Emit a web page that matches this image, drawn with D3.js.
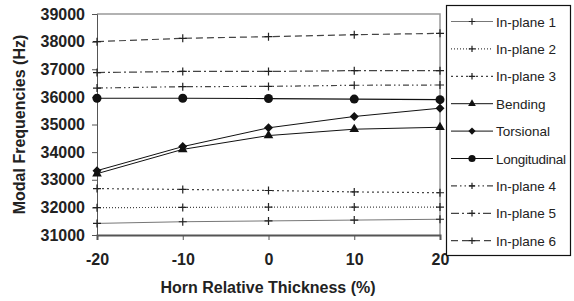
<!DOCTYPE html>
<html>
<head>
<meta charset="utf-8">
<script src="https://cdn.jsdelivr.net/npm/d3@7"></script>
<style>
  body { margin: 0; background: #fff; }
  svg text { font-family: "Liberation Sans", Arial, sans-serif; }
</style>
</head>
<body>
<svg id="chart" width="574" height="301"></svg>
<script>
const thickness = [-20, -10, 0, 10, 20];
const yTicks = [31000, 32000, 33000, 34000, 35000, 36000, 37000, 38000, 39000];

const seriesNames = ['In-plane 1', 'In-plane 2', 'In-plane 3', 'Bending', 'Torsional',
    'Longitudinal', 'In-plane 4', 'In-plane 5', 'In-plane 6'];

const inPlane1 = [31420, 31480, 31510, 31540, 31570];
const inPlane2 = [31990, 32000, 32010, 32010, 32010];
const inPlane3 = [32680, 32650, 32610, 32560, 32530];
const bending = [33220, 34100, 34600, 34830, 34900];
const torsional = [33330, 34200, 34880, 35290, 35590];
const longitudinal = [35950, 35950, 35940, 35920, 35900];
const inPlane4 = [36320, 36370, 36380, 36420, 36430];
const inPlane5 = [36880, 36920, 36920, 36950, 36950];
const inPlane6 = [38000, 38120, 38180, 38250, 38300];

// line look per series (same order as seriesNames)
const styles = [
    {dash: null, color: '#777', width: 1, marker: 'plus'},
    {dash: '1,2', color: '#444', width: 1.2, marker: 'plus'},
    {dash: '2,3', color: '#444', width: 1.2, marker: 'plus'},
    {dash: null, color: '#111', width: 1, marker: 'triangle'},
    {dash: null, color: '#111', width: 1, marker: 'diamond'},
    {dash: null, color: '#111', width: 1.2, marker: 'circle'},
    {dash: '6,3,1.5,3,1.5,3', color: '#444', width: 1.2, marker: 'plus'},
    {dash: '8,3,2,3', color: '#444', width: 1.2, marker: 'plus'},
    {dash: '7,4', color: '#444', width: 1.2, marker: 'plus'}
];

const allValues = [inPlane1, inPlane2, inPlane3, bending, torsional,
    longitudinal, inPlane4, inPlane5, inPlane6];

const series = seriesNames.map((name, i) => ({
    name,
    style: styles[i],
    points: thickness.map((t, j) => ({x: t, y: allValues[i][j]}))
}));

const margin = {top: 14, left: 97, right: 134, bottom: 66};
const W = 574, H = 301;

const svg = d3.select('#chart');

const x = d3.scaleLinear().domain([-20, 20]).range([margin.left, W - margin.right]);
const y = d3.scaleLinear().domain([31000, 39000]).range([H - margin.bottom, margin.top]);

// plot frame (top + right, gray)
svg.append('path')
    .attr('d', `M${x(-20)},${y(39000)}H${x(20)}V${y(31000)}`)
    .attr('fill', 'none')
    .attr('stroke', '#999')
    .attr('stroke-width', 1.5);

// axes
const yAxis = svg.append('g')
    .attr('transform', `translate(${x(-20)},0)`)
    .call(d3.axisLeft(y).tickValues(yTicks).tickSize(5).tickPadding(7).tickFormat(d => String(d)));
yAxis.select('.domain').attr('stroke', '#555');
yAxis.selectAll('.tick line').attr('stroke', '#555');
yAxis.selectAll('text')
    .attr('font-size', 16).attr('font-weight', 'bold').attr('fill', '#222');

const xAxis = svg.append('g')
    .attr('transform', `translate(0,${y(31000)})`)
    .call(d3.axisBottom(x).tickValues(thickness).tickSize(5).tickPadding(14).tickFormat(d => String(d)));
xAxis.select('.domain').attr('stroke', '#555').attr('stroke-width', 2);
xAxis.selectAll('.tick line').attr('stroke', '#555');
xAxis.selectAll('text')
    .attr('font-size', 16).attr('font-weight', 'bold').attr('fill', '#222');

// axis titles
svg.append('text')
    .attr('x', 268).attr('y', 293)
    .attr('text-anchor', 'middle')
    .attr('font-size', 16).attr('font-weight', 'bold').attr('fill', '#222')
    .text('Horn Relative Thickness (%)');

svg.append('text')
    .attr('transform', `translate(25,${(margin.top + H - margin.bottom) / 2}) rotate(-90)`)
    .attr('text-anchor', 'middle')
    .attr('font-size', 16).attr('font-weight', 'bold').attr('fill', '#222')
    .text('Modal Frequencies (Hz)');

// marker drawing
function drawMarker(g, type, cx, cy, s = 1) {
    if (type === 'plus') {
        g.append('path')
            .attr('d', `M${cx - 4 * s},${cy}H${cx + 4 * s}M${cx},${cy - 4 * s}V${cy + 4 * s}`)
            .attr('stroke', '#222').attr('stroke-width', 1.2);
    } else if (type === 'triangle') {
        g.append('path')
            .attr('d', d3.symbol(d3.symbolTriangle, 40 * s * s)())
            .attr('transform', `translate(${cx},${cy})`)
            .attr('fill', '#111');
    } else if (type === 'diamond') {
        const r = 4.5 * s;
        g.append('path')
            .attr('d', `M${cx},${cy - r}L${cx + r},${cy}L${cx},${cy + r}L${cx - r},${cy}Z`)
            .attr('fill', '#111');
    } else if (type === 'circle') {
        g.append('circle')
            .attr('cx', cx).attr('cy', cy).attr('r', 4.5 * s)
            .attr('fill', '#111');
    }
}

const line = d3.line().x(d => x(d.x)).y(d => y(d.y));

const plot = svg.append('g');
series.forEach(s => {
    plot.append('path')
        .datum(s.points)
        .attr('d', line)
        .attr('fill', 'none')
        .attr('stroke', s.style.color)
        .attr('stroke-width', s.style.width)
        .attr('stroke-dasharray', s.style.dash);
    s.points.forEach(p => drawMarker(plot, s.style.marker, x(p.x), y(p.y)));
});

// legend
const legend = svg.append('g');
legend.append('rect')
    .attr('x', 446.5).attr('y', 5.5).attr('width', 124).attr('height', 250)
    .attr('fill', '#fff').attr('stroke', '#111').attr('stroke-width', 1.2);

series.forEach((s, i) => {
    const ly = 21.5 + i * 27.4;
    legend.append('line')
        .attr('x1', 451).attr('x2', 493).attr('y1', ly).attr('y2', ly)
        .attr('stroke', s.style.color)
        .attr('stroke-width', s.style.width)
        .attr('stroke-dasharray', s.style.dash);
    drawMarker(legend, s.style.marker, 472, ly, 0.8);
    legend.append('text')
        .attr('x', 496).attr('y', ly + 5)
        .attr('font-size', 13.5).attr('fill', '#222')
        .attr('textLength', s.name === 'Longitudinal' ? 70 : null)
        .text(s.name);
});
</script>
</body>
</html>
